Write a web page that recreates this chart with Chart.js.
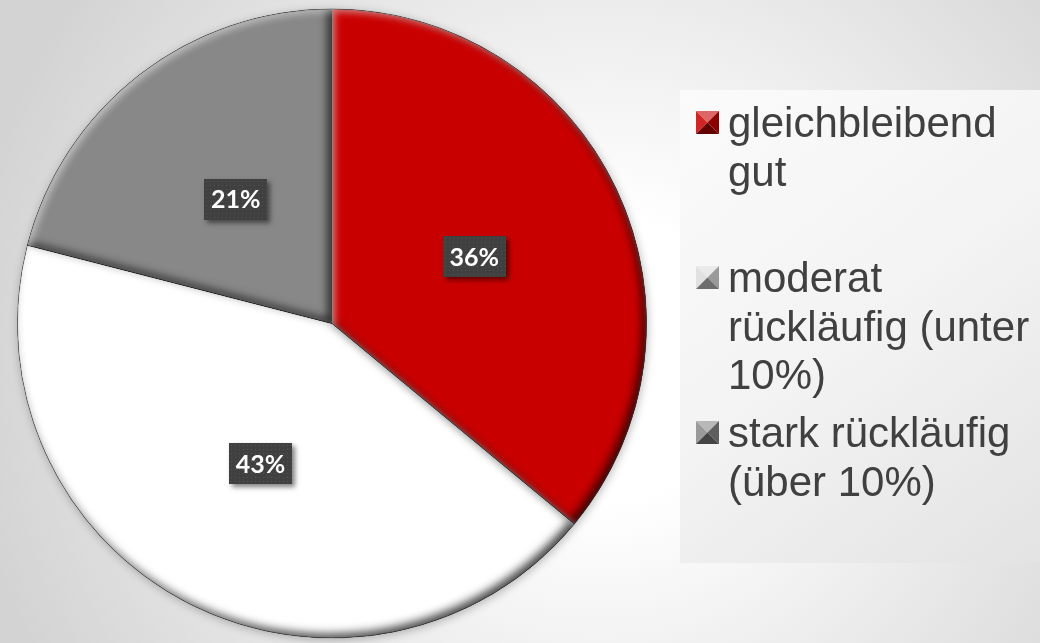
<!DOCTYPE html>
<html>
<head>
<meta charset="utf-8">
<script src="https://cdn.jsdelivr.net/npm/chart.js@4.4.1/dist/chart.umd.min.js"></script>
<style>
  html, body { margin: 0; padding: 0; width: 1040px; height: 643px; overflow: hidden; }
  body { background: radial-gradient(circle 640px at 600px 360px, #ffffff 22%, #d3d3d3 100%); }
  #wrap { position: relative; width: 1040px; height: 643px; }
  canvas { display: block; }
</style>
</head>
<body>
<div id="wrap"><canvas id="c" width="1040" height="643"></canvas></div>
<script>
// ---- data ----
const categories = [
  ["gleichbleibend", "gut"],
  ["moderat", "rückläufig (unter", "10%)"],
  ["stark rückläufig", "(über 10%)"]
];
const values = [36, 43, 21];
const sliceColors = ["#c90000", "#ffffff", "#888888"];

// ---- helpers ----
function shade(hex, amt) {
  const n = parseInt(hex.slice(1), 16);
  let r = (n >> 16) & 255, g = (n >> 8) & 255, b = n & 255;
  const f = v => Math.max(0, Math.min(255, Math.round(amt >= 0 ? v + (255 - v) * amt : v * (1 + amt))));
  return "rgb(" + f(r) + "," + f(g) + "," + f(b) + ")";
}

function arcPath(ctx, x, y, r, s, e) {
  ctx.moveTo(x, y);
  ctx.arc(x, y, r, s, e);
  ctx.closePath();
}

const backgroundPanel = {
  id: "backgroundPanel",
  beforeDraw(chart) {
    const ctx = chart.ctx;
    ctx.save();
    const g = ctx.createLinearGradient(680, 90, 1040, 563);
    g.addColorStop(0, "#fbfbfb");
    g.addColorStop(0.5, "#f3f3f3");
    g.addColorStop(1, "#e3e3e3");
    ctx.fillStyle = g;
    ctx.fillRect(680, 90, 360, 473);
    ctx.restore();
  }
};

const bevel = {
  id: "bevel",
  beforeDatasetsDraw(chart) {
    const meta = chart.getDatasetMeta(0);
    const a = meta.data[0];
    if (!a) return;
    const ctx = chart.ctx;
    ctx.save();
    ctx.beginPath();
    ctx.arc(a.x, a.y, a.outerRadius, 0, Math.PI * 2);
    ctx.shadowColor = "rgba(0,0,0,0.28)";
    ctx.shadowBlur = 10;
    ctx.shadowOffsetX = 1;
    ctx.shadowOffsetY = 2;
    ctx.fillStyle = "#ffffff";
    ctx.fill();
    ctx.restore();
  },
  afterDatasetsDraw(chart) {
    const ctx = chart.ctx;
    const meta = chart.getDatasetMeta(0);
    meta.data.forEach((arc) => {
      const p = arc.getProps(["x", "y", "startAngle", "endAngle", "outerRadius"], true);
      const passes = [
        { color: "rgba(0,0,0,0.75)", blur: 10, ox: -4, oy: -4 },
        { color: "rgba(255,255,255,0.5)", blur: 7, ox: 3, oy: 3 }
      ];
      passes.forEach(ps => {
        ctx.save();
        ctx.beginPath();
        arcPath(ctx, p.x, p.y, p.outerRadius, p.startAngle, p.endAngle);
        ctx.clip();
        ctx.beginPath();
        ctx.rect(-3000, -3000, 6000, 6000);
        arcPath(ctx, p.x, p.y, p.outerRadius, p.startAngle, p.endAngle);
        ctx.shadowColor = ps.color;
        ctx.shadowBlur = ps.blur;
        ctx.shadowOffsetX = ps.ox;
        ctx.shadowOffsetY = ps.oy;
        ctx.fillStyle = "#000";
        ctx.fill("evenodd");
        ctx.restore();
      });
    });
  }
};

const valueLabels = {
  id: "valueLabels",
  afterDatasetsDraw(chart) {
    const ctx = chart.ctx;
    const ds = chart.data.datasets[0];
    const total = ds.data.reduce((s, v) => s + v, 0);
    const meta = chart.getDatasetMeta(0);
    meta.data.forEach((arc, i) => {
      const p = arc.getProps(["x", "y", "startAngle", "endAngle", "outerRadius"], true);
      const mid = (p.startAngle + p.endAngle) / 2;
      const rr = p.outerRadius * 0.5;
      const cx = p.x + Math.cos(mid) * rr;
      const cy = p.y + Math.sin(mid) * rr;
      const w = 63, h = 41;
      const bx = Math.round(cx - w / 2), by = Math.round(cy - h / 2);
      ctx.save();
      ctx.shadowColor = "rgba(0,0,0,0.5)";
      ctx.shadowBlur = 5;
      ctx.shadowOffsetX = 3;
      ctx.shadowOffsetY = 3;
      ctx.fillStyle = "#404040";
      ctx.fillRect(bx, by, w, h);
      ctx.restore();
      ctx.save();
      ctx.fillStyle = "rgba(255,255,255,0.10)";
      for (let yy = by + 2; yy < by + h; yy += 4) {
        for (let xx = bx + 2; xx < bx + w; xx += 4) {
          ctx.fillRect(xx, yy, 1, 1);
        }
      }
      ctx.fillStyle = "#ffffff";
      ctx.font = "bold 25px Lato, 'Open Sans', sans-serif";
      ctx.textAlign = "center";
      ctx.textBaseline = "middle";
      const pct = Math.round(ds.data[i] / total * 100) + "%";
      ctx.fillText(pct, cx, cy + 1);
      ctx.restore();
    });
  }
};

const sideLegend = {
  id: "sideLegend",
  afterDraw(chart) {
    const ctx = chart.ctx;
    const labels = chart.data.labels;
    const cols = chart.data.datasets[0].backgroundColor;
    const sqX = 696, txtX = 728, firstBase = 137, step = 155, lineH = 48.5, sq = 23;
    ctx.save();
    ctx.font = "42px 'Liberation Sans', Arial, sans-serif";
    ctx.textAlign = "left";
    ctx.textBaseline = "alphabetic";
    labels.forEach((lines, i) => {
      const base = firstBase + i * step;
      const c = cols[i];
      const x0 = sqX, y0 = base - 3 - sq, x1 = x0 + sq, y1 = y0 + sq;
      const mx = x0 + sq / 2, my = y0 + sq / 2;
      const isWhite = c.toLowerCase() === "#ffffff";
      const baseC = isWhite ? "#dcdcdc" : c;
      const tris = [
        [[x0, y0], [x1, y0], shade(baseC, 0.4)],
        [[x0, y0], [x0, y1], shade(baseC, 0.15)],
        [[x1, y0], [x1, y1], shade(baseC, -0.3)],
        [[x0, y1], [x1, y1], shade(baseC, -0.5)]
      ];
      tris.forEach(t => {
        ctx.beginPath();
        ctx.moveTo(t[0][0], t[0][1]);
        ctx.lineTo(t[1][0], t[1][1]);
        ctx.lineTo(mx, my);
        ctx.closePath();
        ctx.fillStyle = t[2];
        ctx.fill();
      });
      ctx.fillStyle = "#404040";
      (Array.isArray(lines) ? lines : [lines]).forEach((ln, j) => {
        ctx.fillText(ln, txtX, base + j * lineH);
      });
    });
    ctx.restore();
  }
};

new Chart(document.getElementById("c"), {
  type: "pie",
  data: {
    labels: categories,
    datasets: [{
      data: values,
      backgroundColor: sliceColors,
      borderColor: "rgba(70,70,70,0.55)",
      borderWidth: 1,
      hoverOffset: 0,
      offset: 0
    }]
  },
  options: {
    responsive: false,
    animation: false,
    devicePixelRatio: 1,
    layout: { padding: { left: 17, right: 393, top: 8, bottom: 4 } },
    plugins: {
      legend: { display: false },
      tooltip: { enabled: false }
    },
    events: []
  },
  plugins: [backgroundPanel, bevel, valueLabels, sideLegend]
});
</script>
</body>
</html>
